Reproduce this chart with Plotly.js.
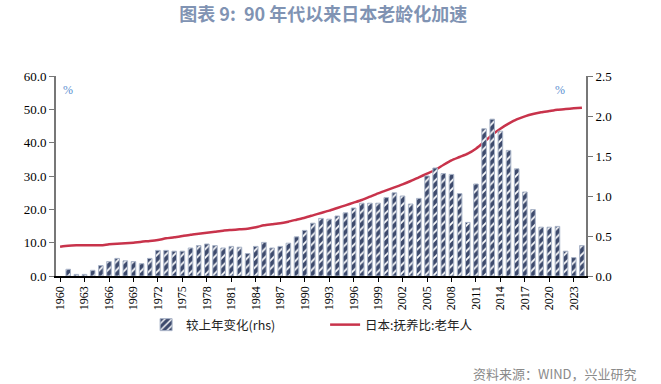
<!DOCTYPE html>
<html><head><meta charset="utf-8">
<script src="https://cdn.plot.ly/plotly-3.0.1.min.js"></script>
<style>html,body{margin:0;padding:0;background:#fff;}#chart{width:661px;height:384px;}</style>
</head><body><div id="chart"></div>
<script>
var years = [];
for (var y = 1960; y <= 2024; y++) years.push(y);

var ratio = [8.8, 9.1, 9.2, 9.2, 9.2, 9.2, 9.5, 9.7, 9.8, 10.0,
  10.3, 10.5, 10.8, 11.3, 11.6, 12.0, 12.4, 12.7, 13.0, 13.3,
  13.6, 13.8, 14.0, 14.2, 14.6, 15.2, 15.5, 15.8, 16.3, 16.9,
  17.5, 18.2, 18.9, 19.6, 20.4, 21.2, 22.0, 22.8, 23.8, 24.8,
  25.7, 26.6, 27.5, 28.5, 29.6, 30.7, 31.8, 33.3, 34.7, 35.7,
  36.7, 38.2, 40.2, 42.4, 44.2, 45.7, 47.0, 47.9, 48.6, 49.1,
  49.5, 49.9, 50.1, 50.3, 50.5];

var change = [null, 0.084, 0.02, 0.02, 0.071, 0.13, 0.18, 0.22, 0.19, 0.18,
  0.154, 0.22, 0.32, 0.32, 0.31, 0.31, 0.35, 0.38, 0.40, 0.38,
  0.35, 0.37, 0.36, 0.28, 0.37, 0.42, 0.35, 0.37, 0.41, 0.49,
  0.57, 0.66, 0.72, 0.71, 0.75, 0.79, 0.85, 0.91, 0.91, 0.91,
  0.98, 1.04, 1.00, 0.90, 0.97, 1.25, 1.35, 1.28, 1.27, 1.03,
  0.67, 1.15, 1.84, 1.96, 1.81, 1.57, 1.34, 1.05, 0.83, 0.61,
  0.61, 0.62, 0.31, 0.23, 0.38];

var tickYears = [];
for (var t = 1960; t <= 2023; t += 3) tickYears.push(t);

var serif = "Liberation Serif, Times New Roman, serif";
var cjk = "Noto Sans CJK SC, sans-serif";

var traces = [
  {
    type: "bar", x: years, y: change, yaxis: "y2", name: "较上年变化(rhs)",
    width: 0.56,
    marker: {color: "#3d4a6c", line: {color: "#a7b2c6", width: 1},
      pattern: {shape: "/", fgcolor: "#ffffff", bgcolor: "#3d4a6c", size: 6, solidity: 0.3}}
  },
  {
    type: "scatter", mode: "lines", x: years, y: ratio, name: "日本:抚养比:老年人",
    line: {color: "#c8334b", width: 2.5, shape: "spline", smoothing: 0.6}
  }
];

var layout = {
  width: 661, height: 384,
  margin: {l: 56, r: 75, t: 76, b: 108},
  paper_bgcolor: "#fff", plot_bgcolor: "#fff",
  title: {text: "图表 9:  90 年代以来日本老龄化加速", x: 0.489, xanchor: "center", y: 0.962, yanchor: "middle",
    font: {family: cjk, size: 18, color: "#8093b3", weight: "bold"}},
  showlegend: true,
  legend: {orientation: "h", x: 0.17, xanchor: "left", y: -0.245, yanchor: "middle",
    font: {family: cjk, size: 12.5, color: "#222"}, traceorder: "normal", itemwidth: 30,
    entrywidth: 134, entrywidthmode: "pixels"},
  xaxis: {
    type: "linear", range: [1959.5, 2024.5], tickmode: "array", tickvals: tickYears,
    ticktext: tickYears.map(String), tickangle: -90,
    tickfont: {family: serif, size: 12, color: "#000"},
    showgrid: false, zeroline: false, showline: true, linecolor: "#000", linewidth: 1.5,
    ticks: "outside", ticklen: 4, tickcolor: "#000"
  },
  yaxis: {
    range: [0, 60], tickvals: [0, 10, 20, 30, 40, 50, 60], tickformat: ".1f",
    tickfont: {family: serif, size: 13, color: "#000"},
    showgrid: false, zeroline: false, showline: true, linecolor: "#777", linewidth: 2,
    ticks: "outside", ticklen: 5, tickcolor: "#777"
  },
  yaxis2: {
    overlaying: "y", side: "right", range: [0, 2.5], tickvals: [0, 0.5, 1, 1.5, 2, 2.5], tickformat: ".1f",
    tickfont: {family: serif, size: 13, color: "#000"},
    showgrid: false, zeroline: false, showline: true, linecolor: "#777", linewidth: 2,
    ticks: "outside", ticklen: 5, tickcolor: "#777"
  },
  annotations: [
    {text: "%", xref: "paper", yref: "paper", x: 0.01, y: 0.975, showarrow: false,
      font: {family: serif, size: 12, color: "#5b8fd0"}},
    {text: "%", xref: "paper", yref: "paper", x: 0.965, y: 0.975, showarrow: false,
      font: {family: serif, size: 12, color: "#5b8fd0"}},
    {text: "资料来源：WIND，兴业研究", xref: "paper", yref: "paper", x: 1.1, xanchor: "right", y: -0.485, yanchor: "middle",
      showarrow: false, font: {family: cjk, size: 13, color: "#8a8a8a"}}
  ]
};

Plotly.newPlot("chart", traces, layout, {displayModeBar: false, staticPlot: true});
</script></body></html>
